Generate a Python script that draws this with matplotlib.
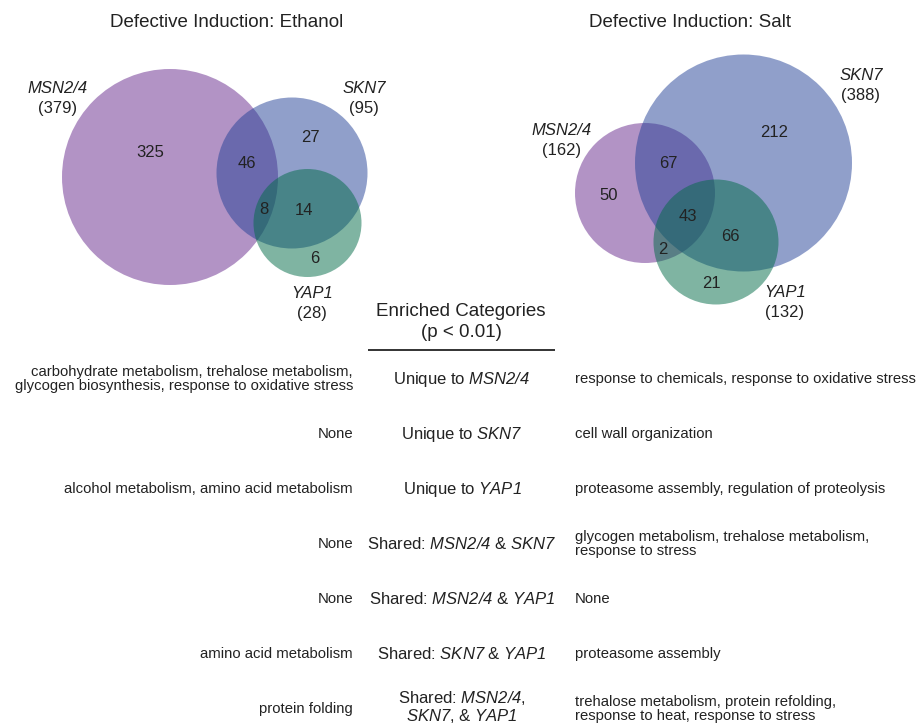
import matplotlib
matplotlib.use("Agg")
import matplotlib.pyplot as plt
from matplotlib.patches import Circle

plt.rcParams['font.family'] = ['Liberation Sans', 'DejaVu Sans']
# math segments carry the italic gene names (digits included)
plt.rcParams['mathtext.fontset'] = 'custom'
plt.rcParams['mathtext.rm'] = 'Liberation Sans:italic'
plt.rcParams['mathtext.it'] = 'Liberation Sans:italic'

# gene sets and venn region counts (M only, S only, Y only, MS, MY, SY, MSY)
set_names = ["MSN2/4", "SKN7", "YAP1"]
regions = ["M", "S", "Y", "MS", "MY", "SY", "MSY"]
ethanol_counts = [325, 27, 6, 46, 0, 14, 8]
salt_counts = [50, 212, 21, 67, 2, 66, 43]

categories = [
    r"Unique to $\mathrm{MSN2/4}$",
    r"Unique to $\mathrm{SKN7}$",
    r"Unique to $\mathrm{YAP1}$",
    r"Shared: $\mathrm{MSN2/4}$ & $\mathrm{SKN7}$",
    r"Shared: $\mathrm{MSN2/4}$ & $\mathrm{YAP1}$",
    r"Shared: $\mathrm{SKN7}$ & $\mathrm{YAP1}$",
    "Shared: $\\mathrm{MSN2/4}$,\n$\\mathrm{SKN7}$, & $\\mathrm{YAP1}$",
]
ethanol_terms = [
    "carbohydrate metabolism, trehalose metabolism,\nglycogen biosynthesis, response to oxidative stress",
    "None",
    "alcohol metabolism, amino acid metabolism",
    "None",
    "None",
    "amino acid metabolism",
    "protein folding",
]
salt_terms = [
    "response to chemicals, response to oxidative stress",
    "cell wall organization",
    "proteasome assembly, regulation of proteolysis",
    "glycogen metabolism, trehalose metabolism,\nresponse to stress",
    "None",
    "proteasome assembly",
    "trehalose metabolism, protein refolding,\nresponse to heat, response to stress",
]

set_colors = ["#67298d", "#234197", "#016b47"]
text_color = "#222222"

# layout in pixel units (x right, y down)
venns = [
    dict(title="Defective Induction: Ethanol", title_xy=(227, 22), counts=ethanol_counts,
         circles=[(170, 177, 108), (292, 173, 75.5), (307.5, 223, 54)],
         count_xy=[(150, 152), (310, 137), (315, 258), (247, 163), (0, 0), (304, 210), (264, 209)],
         label_xy=[(58, 88), (364, 88), (312, 293)]),
    dict(title="Defective Induction: Salt", title_xy=(690, 22), counts=salt_counts,
         circles=[(645, 193, 70), (743.5, 163, 108.5), (716, 242, 62.5)],
         count_xy=[(609, 195), (774, 132), (711, 283), (668, 163), (663, 249), (730, 236), (688, 216)],
         label_xy=[(562, 130), (861, 75), (785, 292)]),
]

fig = plt.figure(figsize=(9.2, 7.25), dpi=100)
ax = fig.add_axes([0, 0, 1, 1])
ax.set_xlim(0, 920)
ax.set_ylim(725, 0)
ax.axis('off')

for v in venns:
    ax.text(*v["title_xy"], v["title"], ha='center', va='center', fontsize=13.5, color=text_color)
    for (cx, cy, r), col in zip(v["circles"], set_colors):
        ax.add_patch(Circle((cx, cy), r, facecolor=col, edgecolor='none', alpha=0.5))
    for key, n, (x, y) in zip(regions, v["counts"], v["count_xy"]):
        if n > 0:
            ax.text(x, y, str(n), ha='center', va='center', fontsize=12, color=text_color)
    for i, (name, (x, y)) in enumerate(zip(set_names, v["label_xy"])):
        total = sum(n for key, n in zip(regions, v["counts"]) if "MSY"[i] in key)
        ax.text(x, y, name, ha='center', va='center', fontsize=12, style='italic', color=text_color)
        ax.text(x, y + 20, f"({total})", ha='center', va='center', fontsize=12, color=text_color)

# enrichment table
ax.text(461, 311, "Enriched Categories", ha='center', va='center', fontsize=13.5, color=text_color)
ax.text(461, 332, "(p < 0.01)", ha='center', va='center', fontsize=13.5, color=text_color)
ax.plot([368, 555], [350, 350], color='#333333', lw=1.4, solid_capstyle='butt')

row_y0, row_step = 379, 55
for i, (cat, eth, salt) in enumerate(zip(categories, ethanol_terms, salt_terms)):
    y = row_y0 + i * row_step
    ax.text(353, y, eth, ha='right', va='center', fontsize=10.7, linespacing=0.95, color=text_color)
    ax.text(462, y - (2 if "\n" in cat else 0), cat, ha='center', va='center', fontsize=12,
            linespacing=1.05, color=text_color)
    ax.text(575, y, salt, ha='left', va='center', fontsize=10.7, linespacing=0.95, color=text_color)

fig.savefig("out.png", dpi=100)
